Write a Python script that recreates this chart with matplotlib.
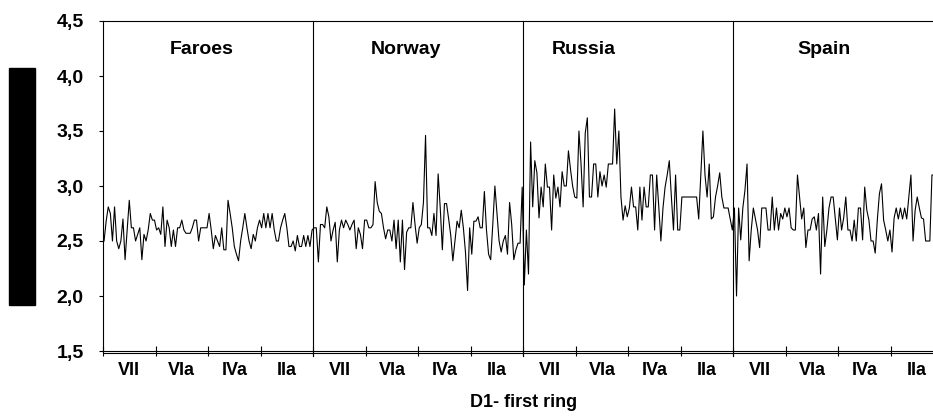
import numpy as np
import matplotlib
matplotlib.use("Agg")
import matplotlib.pyplot as plt
from matplotlib.patches import Rectangle
from matplotlib.ticker import FuncFormatter

plt.rcParams['font.family'] = ['Liberation Sans', 'DejaVu Sans']
plt.rcParams['font.weight'] = 'bold'

countries = ["Faroes", "Norway", "Russia", "Spain"]
areas = ["VII", "VIa", "IVa", "IIa"]
slots_per_panel = 100

faroes = [2.50, 2.68, 2.81, 2.75, 2.50, 2.81, 2.50, 2.43, 2.50, 2.70,
          2.33, 2.60, 2.87, 2.62, 2.62, 2.50, 2.56, 2.62, 2.33, 2.56,
          2.50, 2.60, 2.75, 2.69, 2.69, 2.60, 2.62, 2.56, 2.81, 2.45,
          2.69, 2.62, 2.45, 2.60, 2.45, 2.62, 2.62, 2.69, 2.60, 2.57,
          2.57, 2.57, 2.62, 2.69, 2.69, 2.50, 2.62, 2.62, 2.62,
          2.62, 2.75, 2.60, 2.43, 2.55, 2.50, 2.45, 2.62, 2.42, 2.42,
          2.87, 2.75, 2.62, 2.45, 2.38, 2.32, 2.50, 2.62, 2.75, 2.62,
          2.50, 2.43, 2.56, 2.50, 2.62, 2.69, 2.62, 2.75, 2.62, 2.75,
          2.62, 2.75, 2.60, 2.50, 2.50, 2.62, 2.69, 2.75, 2.62, 2.45,
          2.45, 2.50, 2.41, 2.55, 2.45, 2.45, 2.55, 2.45, 2.55, 2.45,
          2.60]

norway = [2.62, 2.62, 2.31, 2.65, 2.65, 2.62, 2.81, 2.72, 2.50, 2.60,
          2.67, 2.31, 2.60, 2.69, 2.62, 2.69, 2.65, 2.60, 2.65, 2.69,
          2.43, 2.62, 2.56, 2.43, 2.69, 2.69, 2.62, 2.62, 2.65,
          3.04, 2.85, 2.77, 2.75, 2.62, 2.52, 2.60, 2.60, 2.50, 2.69,
          2.43, 2.69, 2.31, 2.69, 2.24, 2.58, 2.62, 2.62, 2.85, 2.65,
          2.48, 2.62, 2.65,
          2.85, 3.46, 2.62, 2.62, 2.55, 2.75, 2.55, 3.11, 2.80, 2.42,
          2.84, 2.84, 2.70, 2.55, 2.32, 2.50, 2.68, 2.62, 2.78, 2.62,
          2.40, 2.05, 2.62, 2.38, 2.68, 2.68, 2.72, 2.62, 2.62, 2.95,
          2.60, 2.38, 2.33, 2.65, 3.00, 2.75, 2.50, 2.40, 2.50, 2.55,
          2.38, 2.85, 2.65, 2.33, 2.42, 2.48, 2.48, 2.99]

russia = [2.10, 2.60, 2.20, 3.40, 2.81, 3.23, 3.12, 2.71, 2.99, 2.81,
          3.20, 2.99, 2.99, 2.60, 3.10, 2.89, 2.99, 2.81, 3.13, 3.00,
          3.00, 3.32, 3.15, 3.00, 2.90, 2.89, 3.50, 3.20, 2.81, 3.48,
          3.62, 2.90, 2.90, 3.20, 3.20, 2.90, 3.13, 3.00, 3.10, 2.99,
          3.20, 3.20, 3.20, 3.70, 3.20, 3.50, 2.90, 2.69, 2.82, 2.72,
          2.80,
          2.99, 2.81, 2.81, 2.60, 2.99, 2.69, 2.99, 2.81, 2.81, 3.10,
          3.10, 2.60, 3.10, 2.81, 2.50, 2.80, 2.99, 3.10, 3.23, 2.90,
          2.60, 3.10, 2.60, 2.60, 2.90, 2.90, 2.90, 2.90, 2.90, 2.90,
          2.90, 2.90, 2.70, 3.10, 3.50, 3.10, 2.90, 3.20, 2.70, 2.72,
          2.90, 3.00, 3.12, 2.90, 2.80, 2.80, 2.80, 2.70, 2.60]

spain = [2.80, 2.00, 2.80, 2.51, 2.80, 2.96, 3.20, 2.32, 2.60, 2.80,
         2.70, 2.60, 2.44, 2.80, 2.80, 2.80, 2.60, 2.60, 2.90, 2.60,
         2.80, 2.60, 2.75, 2.70, 2.80, 2.72, 2.80, 2.62, 2.60, 2.60,
         3.10, 2.90, 2.70, 2.80, 2.44, 2.60, 2.60, 2.70, 2.72, 2.60,
         2.75, 2.20, 2.90, 2.45, 2.60, 2.80, 2.90, 2.90, 2.70,
         2.51, 2.80, 2.60, 2.71, 2.90, 2.60, 2.60, 2.50, 2.69, 2.50,
         2.80, 2.80, 2.51, 2.99, 2.78, 2.69, 2.50, 2.50, 2.39, 2.69,
         2.93, 3.02, 2.69, 2.60, 2.50, 2.60, 2.40, 2.71, 2.80, 2.70,
         2.80, 2.70, 2.80, 2.70, 2.90, 3.10, 2.50, 2.78, 2.90, 2.80,
         2.71, 2.70, 2.50, 2.50, 2.50, 3.10, 3.10, 2.50]

panels = [faroes, norway, russia, spain]

# x positions: each panel gets its own block of slots
xs, ys = [], []
for p, vals in enumerate(panels):
    xs.extend(p * slots_per_panel + np.arange(len(vals)) + 0.5)
    ys.extend(vals)

fig = plt.figure(figsize=(9.33, 4.19), dpi=100)
# axes runs a bit past the right edge, like the cropped original
ax = fig.add_axes([103 / 933, 68 / 419, 840.5 / 933, 330 / 419])

ax.plot(xs, ys, color='black', linewidth=0.8)

n_total = slots_per_panel * len(countries)
ax.set_xlim(0, n_total)
ax.set_ylim(1.5, 4.5)

# panel separators
for p in range(1, len(countries)):
    ax.axvline(p * slots_per_panel, ymin=-0.015, ymax=1, color='black',
               linewidth=0.8, clip_on=False)

# double line under the x axis
ax.plot([0, 1], [-0.0075, -0.0075], transform=ax.transAxes, color='black',
        linewidth=0.8, clip_on=False)

# panel titles
title_x = [47, 144, 229, 343]
for name, tx in zip(countries, title_x):
    ax.text(tx, 4.245, name, ha='center', va='center', fontsize=14,
            fontweight='bold')

# y axis
ax.set_yticks(np.arange(1.5, 4.51, 0.5))
ax.yaxis.set_major_formatter(FuncFormatter(lambda v, _: f"{v:.1f}".replace('.', ',')))
ax.tick_params(axis='y', direction='out', length=3, width=0.8, pad=11,
               labelsize=14)

# x axis: boundary ticks + area labels in between
quarter = slots_per_panel / len(areas)
ax.set_xticks(np.arange(0, n_total + 1, quarter))
ax.set_xticklabels([])
ax.set_xticks(np.arange(quarter / 2, n_total, quarter), minor=True)
ax.set_xticklabels(areas * len(countries), minor=True)
ax.tick_params(axis='x', which='major', direction='inout', length=6.5,
               width=0.8)
ax.tick_params(axis='x', which='minor', length=0, pad=8, labelsize=13)
ax.set_xlabel("D1- first ring", fontsize=13, fontweight='bold', labelpad=11)

for side in ['left', 'top', 'bottom', 'right']:
    ax.spines[side].set_linewidth(0.8)

# blacked-out y label block
fig.patches.append(Rectangle((9 / 933, 114 / 419), 26 / 933, 237 / 419,
                             transform=fig.transFigure, color='black'))

fig.savefig("out.png", dpi=100)
